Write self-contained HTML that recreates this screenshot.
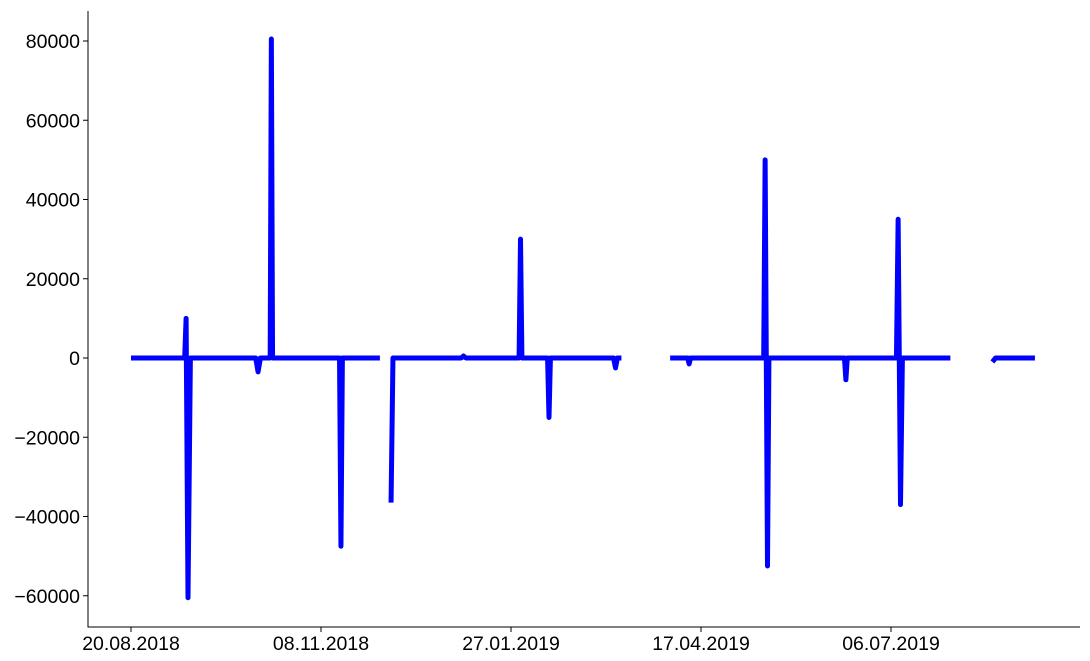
<!DOCTYPE html>
<html><head><meta charset="utf-8"><style>
html,body{margin:0;padding:0;background:#fff;}
svg{display:block;font-family:"Liberation Sans",sans-serif;}
</style></head><body>
<svg id="chart" width="1090" height="661"></svg>
<script>
const days   = [0,22.6,23.2,24,25,52.5,53.5,54.5,58.6,59.1,59.6,60.2,87.8,88.4,89,104.8,null,109.5,110.3,139,140,141,163.4,164,164.6,175.4,176,176.6,203.2,204,204.8,206.5,null,227,234.4,235,235.6,266.4,267,268,268.6,300.4,301,301.6,322.3,323,324,324.8,345,null,362.7,364,380.6];
const values = [0,0,10000,-60500,0,0,-3500,0,0,80500,0,0,0,-47500,0,0,null,-36500,0,0,500,0,0,30000,0,0,-15000,0,0,-2500,0,0,null,0,0,-1500,0,0,50000,-52500,0,0,-5500,0,0,35000,-37000,0,0,null,-1000,0,0];
const yTicks = [-60000,-40000,-20000,0,20000,40000,60000,80000];
const xTickDays = [0,80,160,240,320];
const xTickLabels = ["20.08.2018","08.11.2018","27.01.2019","17.04.2019","06.07.2019"];

const svg = document.getElementById('chart');
const NS = 'http://www.w3.org/2000/svg';
const X = d => 131 + d * 2.375;
const Y = v => 358 - v * 317 / 80000;
function mk(tag, attrs){const e=document.createElementNS(NS,tag);for(const k in attrs)e.setAttribute(k,attrs[k]);svg.appendChild(e);return e;}

const ax = mk('path',{d:'M88,11 V627 H1080',fill:'none',stroke:'#000','stroke-width':1});



yTicks.forEach(v=>{
  const t = mk('line',{x1:83,x2:88,y1:Y(v),y2:Y(v),stroke:'#000'});
  
  
  const l = mk('text',{x:80,y:Y(v)+7,'text-anchor':'end','font-size':19.5});
  l.textContent = String(v).replace('-','\u2212');
  
  
});
xTickDays.forEach((d,i)=>{
  const t = mk('line',{x1:X(d),x2:X(d),y1:627,y2:632,stroke:'#000'});
  
  
  const l = mk('text',{x:X(d),y:650,'text-anchor':'middle','font-size':19.5});
  l.textContent = xTickLabels[i];
  
  
});

let d='', pen=false;
for(let i=0;i<days.length;i++){
  if(days[i]===null||values[i]===null){pen=false;continue;}
  d += (pen?'L':'M') + X(days[i]).toFixed(2) + ',' + Y(values[i]).toFixed(2) + ' ';
  pen = true;
}
const line = mk('path',{d:d,fill:'none',stroke:'#0000ff','stroke-width':5,'stroke-linejoin':'round','stroke-linecap':'butt'});


</script>
</body></html>
